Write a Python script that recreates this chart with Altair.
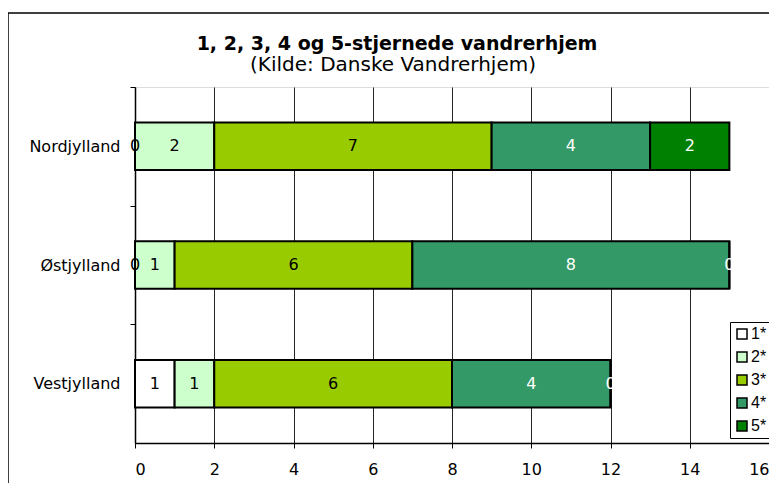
import altair as alt
import pandas as pd

regions = ["Nordjylland", "Østjylland", "Vestjylland"]
stars = ["1*", "2*", "3*", "4*", "5*"]
star_colors = ["#FFFFFF", "#CCFFCC", "#99CC00", "#339966", "#008000"]
text_colors = ["#000000", "#000000", "#000000", "#FFFFFF", "#FFFFFF"]

v1 = [0, 0, 1]
v2 = [2, 1, 1]
v3 = [7, 6, 6]
v4 = [4, 8, 4]
v5 = [2, 0, 0]
series = [v1, v2, v3, v4, v5]

x_ticks = [0, 2, 4, 6, 8, 10, 12, 14, 16]
title_text = "1, 2, 3, 4 og 5-stjernede vandrerhjem"
subtitle_text = "(Kilde: Danske Vandrerhjem)"

rows = []
for ri, r in enumerate(regions):
    cum = 0
    for si, s in enumerate(stars):
        v = series[si][ri]
        rows.append({"region": r, "star": s, "value": v, "start": cum, "end": cum + v,
                     "mid": cum + v / 2, "tcol": text_colors[si], "order": si})
        cum += v
df = pd.DataFrame(rows)

FONT = "DejaVu Sans"
H = 356
STEP = H / (3 - 0.6 + 0.6)

yenc = alt.Y("region:N", sort=regions, title=None,
             scale=alt.Scale(paddingInner=0.6, paddingOuter=0.3),
             axis=alt.Axis(labelFontSize=16, labelColor="black", labelFont=FONT,
                           labelPadding=10, tickSize=5, tickColor="black",
                           tickOffset=-STEP / 2, labelOffset=STEP / 2,
                           domainColor="black", domainWidth=1.5, tickWidth=1))
xenc = alt.X("start:Q", title=None,
             scale=alt.Scale(domain=[0, 16], nice=False),
             axis=alt.Axis(values=x_ticks, grid=True,
                           gridColor="black", gridWidth=1, gridOpacity=0.85,
                           labelFontSize=16, labelColor="black", labelFont=FONT,
                           labelPadding=13, tickSize=5, tickColor="black",
                           domainColor="black", domainWidth=1.5))

bars = alt.Chart(df).mark_bar(stroke="black", strokeWidth=2).encode(
    x=xenc,
    x2="end:Q",
    y=yenc,
    color=alt.Color("star:N", sort=stars,
                    scale=alt.Scale(domain=stars, range=star_colors),
                    legend=alt.Legend(title=None, orient="none", legendX=595, legendY=235,
                                      symbolType="square", symbolSize=100,
                                      symbolStrokeColor="black", symbolStrokeWidth=1.5,
                                      labelFontSize=16, labelFont="Liberation Sans",
                                      labelColor="black",
                                      rowPadding=7, padding=4, labelOffset=1,
                                      columnPadding=0,
                                      strokeColor="black", fillColor="white")),
)

labels = alt.Chart(df).mark_text(fontSize=16, font=FONT).encode(
    x=alt.X("mid:Q"),
    y=alt.Y("region:N", sort=regions),
    text="value:Q",
    color=alt.Color("tcol:N", scale=None, legend=None),
)

one = pd.DataFrame({"a": [0]})

frame = alt.Chart(one).mark_rect(
    fill=None, stroke="black", strokeWidth=1.5
).encode(x=alt.value(-127), x2=alt.value(660), y=alt.value(-74), y2=alt.value(430))

title_mark = alt.Chart(one).mark_text(
    font=FONT, fontSize=19, fontWeight="bold", color="black", baseline="alphabetic",
    align="center"
).encode(x=alt.value(262), y=alt.value(-37), text=alt.value(title_text))

subtitle_mark = alt.Chart(one).mark_text(
    font=FONT, fontSize=20, color="black", baseline="alphabetic", align="center"
).encode(x=alt.value(258), y=alt.value(-16), text=alt.value(subtitle_text))

chart = alt.layer(frame, bars, labels, title_mark, subtitle_mark).properties(
    width=634, height=H,
    autosize=alt.AutoSizeParams(type="none"),
    padding={"left": 127, "top": 79, "right": 0, "bottom": 40},
).configure_view(
    fill="#C0C0C0", stroke="#808080", strokeWidth=1
).configure(background="white")

chart.save("out.html", embed_options={"renderer": "svg", "actions": False})
